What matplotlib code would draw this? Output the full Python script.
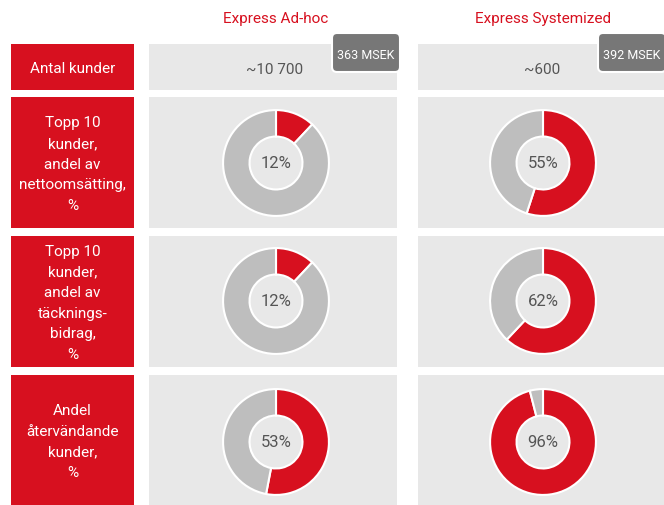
import matplotlib
matplotlib.use("Agg")
import matplotlib.pyplot as plt
from matplotlib.patches import Rectangle, FancyBboxPatch

# ---- data ----
columns = ["Express Ad-hoc", "Express Systemized"]
row_labels = [
    "Antal kunder",
    "Topp 10\nkunder,\nandel av\nnettoomsätting,\n%",
    "Topp 10\nkunder,\nandel av\ntäcknings-\nbidrag,\n%",
    "Andel\nåtervändande\nkunder,\n%",
]
customers = ["~10 700", "~600"]
revenue = ["363 MSEK", "392 MSEK"]
top10_revenue = [12, 55]
top10_margin = [12, 62]
returning = [53, 96]

RED = "#D7101F"
PANEL = "#E8E8E8"
GREY = "#BEBEBE"
BADGE = "#777777"
TXT = "#555555"

plt.rcParams['font.family'] = ['Roboto', 'DejaVu Sans']

W, H = 664, 506
fig = plt.figure(figsize=(W / 100, H / 100), dpi=100)
bg = fig.add_axes([0, 0, 1, 1])
bg.set_xlim(0, W)
bg.set_ylim(H, 0)
bg.axis("off")

col_x = [(149, 397), (418, 668)]
rows_y = [(45, 91), (98, 229), (237, 368), (376, 510)]
centers = [276, 543]

# headers
for cx, name in zip(centers, columns):
    bg.text(cx, 19, name, color=RED, fontsize=11, ha="center", va="center")

# row labels & panels
for (y0, y1), lab in zip(rows_y, row_labels):
    bg.add_patch(Rectangle((11, y0), 123, y1 - y0, color=RED, lw=0))
    yc = (y0 + min(y1, 506)) / 2
    bg.text(72.5, yc + 1, lab, color="white", fontsize=11,
            ha="center", va="center", linespacing=1.6)
    for x0, x1 in col_x:
        bg.add_patch(Rectangle((x0, y0), x1 - x0, y1 - y0, color=PANEL, lw=0))

# row 1 texts and badges
for cx, c in zip(centers, customers):
    bg.text(cx - 1, 70, c, color=TXT, fontsize=11, ha="center", va="center")
badge_x = [332, 598]
for bx, r in zip(badge_x, revenue):
    bg.add_patch(FancyBboxPatch((bx, 34), 68, 39,
                                boxstyle="round,pad=0,rounding_size=5",
                                fc=BADGE, ec="white", lw=1.5))
    bg.text(bx + 34, 55, r, color="white", fontsize=9, ha="center", va="center")

# donuts
donut_rows = [top10_revenue, top10_margin, returning]
donut_cy = [164, 302, 443]
R = 54
for vals, cy in zip(donut_rows, donut_cy):
    for cx, v in zip(centers, vals):
        ax = fig.add_axes([(cx - R) / W, 1 - (cy + R) / H, 2 * R / W, 2 * R / H])
        ax.pie([v, 100 - v], colors=[RED, GREY], startangle=90, counterclock=False,
               radius=1, wedgeprops=dict(width=0.5, edgecolor="white", linewidth=1.5))
        ax.set_xlim(-1.02, 1.02)
        ax.set_ylim(-1.02, 1.02)
        ax.set_aspect("equal")
        ax.axis("off")
        ax.text(0, 0, f"{v}%", color=TXT, fontsize=12, ha="center", va="center")

fig.savefig("out.png", dpi=100)
